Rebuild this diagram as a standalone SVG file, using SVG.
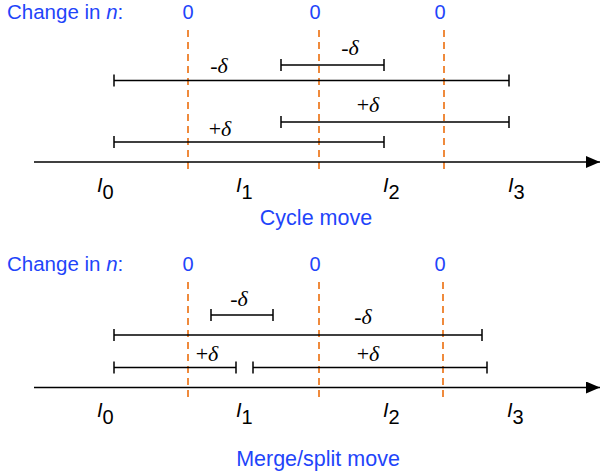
<svg xmlns="http://www.w3.org/2000/svg" width="600" height="473" viewBox="0 0 600 473">
<style>
.blue{font-family:"Liberation Sans",Arial,sans-serif;font-size:20.5px;fill:#1f45fa}
.zero{font-family:"Liberation Sans",Arial,sans-serif;font-size:20px;fill:#1f45fa;text-anchor:middle}
.title{font-family:"Liberation Sans",Arial,sans-serif;font-size:21.5px;fill:#1f45fa;text-anchor:middle}
.d{font-family:"Liberation Serif","Times New Roman",serif;font-size:22px;fill:#000;text-anchor:middle}
.lab{font-family:"Liberation Sans",Arial,sans-serif;font-size:20px;fill:#000}
.seg{stroke:#000;stroke-width:1.5;fill:none}
.axis{stroke:#000;stroke-width:1.5;fill:none}
.dash{stroke:#ef8a3c;stroke-width:2;stroke-dasharray:7 5;fill:none}
</style>
<defs>
<marker id="arr" markerWidth="14" markerHeight="12" refX="14" refY="6" orient="auto" markerUnits="userSpaceOnUse">
<path d="M0,0 L14,6 L0,12 Z" fill="#000"/>
</marker>
</defs>

<!-- Top panel: Cycle move -->
<g id="cycle-header">
<text class="blue" x="7" y="19">Change in <tspan font-style="italic">n</tspan>:</text>
<text class="zero" x="188" y="18.5">0</text>
<text class="zero" x="315" y="18.5">0</text>
<text class="zero" x="440" y="18.5">0</text>
</g>
<g id="cycle-boundaries">
<line class="dash" x1="188" y1="30" x2="188" y2="173"/>
<line class="dash" x1="319" y1="30" x2="319" y2="173"/>
<line class="dash" x1="444" y1="30" x2="444" y2="173"/>
</g>
<g id="cycle-axis">
<line class="axis" x1="34" y1="162" x2="600" y2="162" marker-end="url(#arr)"/>
<text class="lab" x="97" y="192"><tspan font-style="italic">I</tspan><tspan dy="7">0</tspan></text>
<text class="lab" x="236" y="192"><tspan font-style="italic">I</tspan><tspan dy="7">1</tspan></text>
<text class="lab" x="383" y="192"><tspan font-style="italic">I</tspan><tspan dy="7">2</tspan></text>
<text class="lab" x="508" y="192"><tspan font-style="italic">I</tspan><tspan dy="7">3</tspan></text>
</g>
<g id="cycle-segments">
<path class="seg" d="M281,65 H384 M281,59 V71 M384,59 V71"/>
<text class="d" x="350" y="55">-<tspan font-style="italic">δ</tspan></text>
<path class="seg" d="M114,80.5 H509 M114,74.5 V86.5 M509,74.5 V86.5"/>
<text class="d" x="219" y="73">-<tspan font-style="italic">δ</tspan></text>
<path class="seg" d="M281,122 H509 M281,116 V128 M509,116 V128"/>
<text class="d" x="368" y="112">+<tspan font-style="italic">δ</tspan></text>
<path class="seg" d="M114,142 H384 M114,136 V148 M384,136 V148"/>
<text class="d" x="220" y="136">+<tspan font-style="italic">δ</tspan></text>
</g>
<text id="cycle-title" class="title" x="316" y="225">Cycle move</text>

<!-- Bottom panel: Merge/split move -->
<g id="merge-header">
<text class="blue" x="7" y="271">Change in <tspan font-style="italic">n</tspan>:</text>
<text class="zero" x="188" y="271">0</text>
<text class="zero" x="315" y="271">0</text>
<text class="zero" x="440" y="271">0</text>
</g>
<g id="merge-boundaries">
<line class="dash" x1="188" y1="282" x2="188" y2="402"/>
<line class="dash" x1="319" y1="282" x2="319" y2="402"/>
<line class="dash" x1="443" y1="282" x2="443" y2="402"/>
</g>
<g id="merge-axis">
<line class="axis" x1="34" y1="387.5" x2="600" y2="387.5" marker-end="url(#arr)"/>
<text class="lab" x="97" y="417"><tspan font-style="italic">I</tspan><tspan dy="7">0</tspan></text>
<text class="lab" x="236" y="417"><tspan font-style="italic">I</tspan><tspan dy="7">1</tspan></text>
<text class="lab" x="383" y="417"><tspan font-style="italic">I</tspan><tspan dy="7">2</tspan></text>
<text class="lab" x="507" y="417"><tspan font-style="italic">I</tspan><tspan dy="7">3</tspan></text>
</g>
<g id="merge-segments">
<path class="seg" d="M211,315 H273 M211,309 V321 M273,309 V321"/>
<text class="d" x="239" y="306">-<tspan font-style="italic">δ</tspan></text>
<path class="seg" d="M114,335 H482 M114,329 V341 M482,329 V341"/>
<text class="d" x="363" y="324">-<tspan font-style="italic">δ</tspan></text>
<path class="seg" d="M114,367.5 H236 M114,361.5 V373.5 M236,361.5 V373.5"/>
<text class="d" x="207" y="361">+<tspan font-style="italic">δ</tspan></text>
<path class="seg" d="M253,367.5 H487 M253,361.5 V373.5 M487,361.5 V373.5"/>
<text class="d" x="368" y="361">+<tspan font-style="italic">δ</tspan></text>
</g>
<text id="merge-title" class="title" x="318" y="466">Merge/split move</text>
</svg>
